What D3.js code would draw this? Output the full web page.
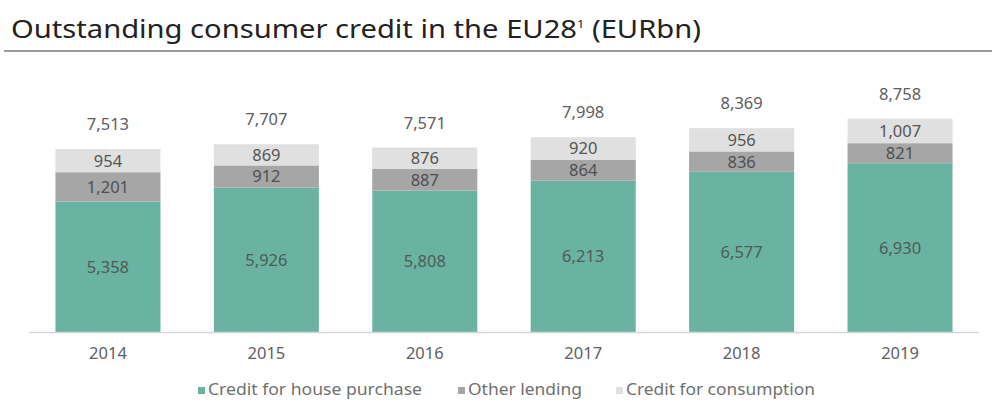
<!DOCTYPE html>
<html>
<head>
<meta charset="utf-8">
<script src="https://cdn.jsdelivr.net/npm/d3@7"></script>
<style>
  body { margin: 0; background: #fff; }
  text { font-family: "Noto Sans", "Open Sans", sans-serif; }
</style>
</head>
<body>
<script>
// data (EUR bn)
const years = ['2014', '2015', '2016', '2017', '2018', '2019'];
const housePurchase = [5358, 5926, 5808, 6213, 6577, 6930];
const otherLending = [1201, 912, 887, 864, 836, 821];
const consumption = [954, 869, 876, 920, 956, 1007];
const totals = [7513, 7707, 7571, 7998, 8369, 8758];
const seriesNames = ['Credit for house purchase', 'Other lending', 'Credit for consumption'];

const colors = ['#6ab3a2', '#a6a6a6', '#e0e0e0'];
const labelColors = ['#4d5c57', '#505050', '#555'];

const width = 992, height = 401;

const svg = d3.select('body')
    .append('svg')
    .attr('width', width)
    .attr('height', height);

// title + rule underneath
svg.append('text')
    .attr('x', 11)
    .attr('y', 38)
    .attr('font-size', 25)
    .attr('fill', '#222')
    .attr('textLength', 690)
    .attr('lengthAdjust', 'spacingAndGlyphs')
    .call(t => {
        t.append('tspan').text('Outstanding consumer credit in the EU28');
        t.append('tspan').attr('font-size', 11).attr('dy', -10).text('1');
        t.append('tspan').attr('dy', 10).text(' (EURbn)');
    });

svg.append('line')
    .attr('x1', 4).attr('x2', width)
    .attr('y1', 51).attr('y2', 51)
    .attr('stroke', '#9a9a9a')
    .attr('stroke-width', 2);

// scales
const x = d3.scaleBand()
    .domain(years)
    .range([29, 979])
    .paddingInner(0.337)
    .paddingOuter(0.167);

const y = d3.scaleLinear()
    .domain([0, 10000])
    .range([332, 88.4]);

// stack the three series
const rows = years.map((yr, i) => ({
    year: yr,
    house: housePurchase[i],
    other: otherLending[i],
    cons: consumption[i],
    total: totals[i]
}));
const keys = ['house', 'other', 'cons'];
const stacked = d3.stack().keys(keys)(rows);

const layers = svg.selectAll('.layer')
    .data(stacked)
    .enter().append('g')
    .attr('class', 'layer')
    .attr('fill', (d, i) => colors[i]);

layers.selectAll('rect')
    .data(d => d)
    .enter().append('rect')
    .attr('x', d => x(d.data.year))
    .attr('width', x.bandwidth())
    .attr('y', d => y(d[1]))
    .attr('height', d => y(d[0]) - y(d[1]));

// value labels inside segments
stacked.forEach((layer, li) => {
    svg.append('g').selectAll('text')
        .data(layer)
        .enter().append('text')
        .attr('x', d => x(d.data.year) + x.bandwidth() / 2)
        .attr('y', d => (y(d[0]) + y(d[1])) / 2)
        .attr('dy', '0.36em')
        .attr('text-anchor', 'middle')
        .attr('font-size', 16.5)
        .attr('fill', labelColors[li])
        .text(d => d3.format(',')(d[1] - d[0]));
});

// totals above bars
svg.append('g').selectAll('text')
    .data(rows)
    .enter().append('text')
    .attr('x', d => x(d.year) + x.bandwidth() / 2)
    .attr('y', d => y(d.house + d.other + d.cons) - 25)
    .attr('dy', '0.36em')
    .attr('text-anchor', 'middle')
    .attr('font-size', 16.5)
    .attr('fill', '#606060')
    .text(d => d3.format(',')(d.total));

// x axis
const xAxis = svg.append('g')
    .attr('transform', 'translate(0,332.5)')
    .call(d3.axisBottom(x).tickSize(0).tickPadding(15));
xAxis.select('.domain')
    .attr('d', 'M29,0H979')
    .attr('stroke', '#d6d6d6')
    .attr('stroke-width', 1.5);
xAxis.selectAll('text')
    .attr('font-family', '"Noto Sans", sans-serif')
    .attr('font-size', 16.5)
    .attr('fill', '#606060');

// legend
const legendX = [198, 458, 616];
const legendLen = [214, 114, 189];
const legend = svg.append('g').selectAll('g')
    .data(seriesNames)
    .enter().append('g')
    .attr('transform', (d, i) => 'translate(' + legendX[i] + ',0)');

legend.append('rect')
    .attr('y', 387)
    .attr('width', 7)
    .attr('height', 7)
    .attr('fill', (d, i) => colors[i]);

legend.append('text')
    .attr('x', 10)
    .attr('y', 395)
    .attr('font-size', 16.5)
    .attr('fill', '#707070')
    .attr('textLength', (d, i) => legendLen[i])
    .attr('lengthAdjust', 'spacingAndGlyphs')
    .text(d => d);
</script>
</body>
</html>
